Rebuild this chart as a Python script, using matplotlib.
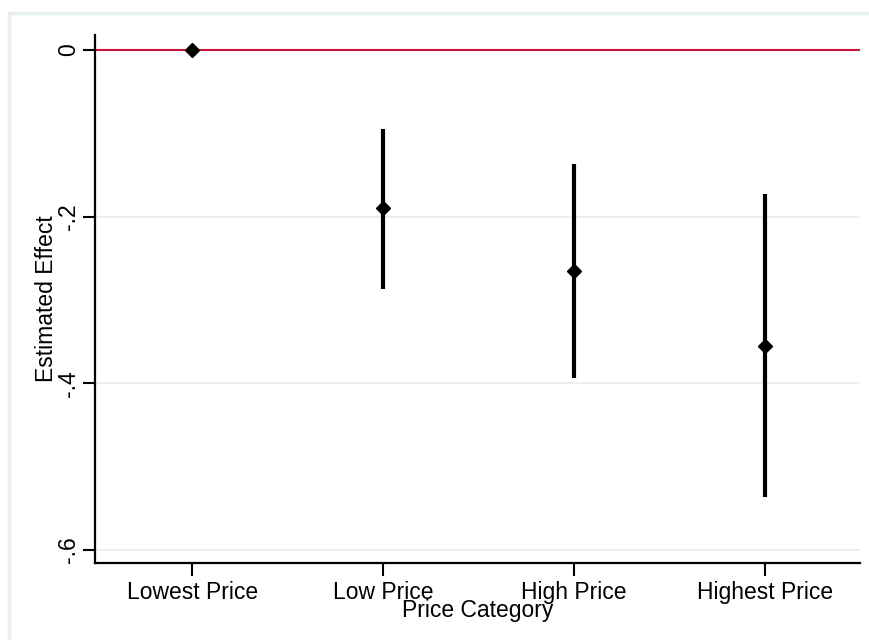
import matplotlib
matplotlib.use("Agg")
import matplotlib.pyplot as plt
from matplotlib.patches import Rectangle

# Estimated effects by price category with confidence intervals
categories = ["Lowest Price", "Low Price", "High Price", "Highest Price"]
estimates = [0.0, -0.190, -0.265, -0.355]
ci_low = [0.0, -0.287, -0.393, -0.536]
ci_high = [0.0, -0.095, -0.137, -0.173]
y_ticks = [0.0, -0.2, -0.4, -0.6]
y_tick_labels = ["0", "-.2", "-.4", "-.6"]

plt.rcParams["font.family"] = ["Liberation Sans", "DejaVu Sans"]
FS = 16.5

fig = plt.figure(figsize=(8.7, 6.4), dpi=100)
fig.patch.set_facecolor("white")

# light outer graph-region frame
frame = Rectangle((9 / 870, -0.05), 1.1, 1.05 - 12.5 / 640,
                  transform=fig.transFigure, fill=False,
                  edgecolor="#E6EFF1", linewidth=2.5, zorder=0)
fig.patches.append(frame)

ax = fig.add_axes([95 / 870, (640 - 563) / 640, (860 - 95) / 870, (563 - 35) / 640])
ax.set_facecolor("white")

x = list(range(1, len(categories) + 1))

# grid lines and zero reference line
for yv in y_ticks[1:]:
    ax.axhline(yv, color="#E6EFF1", linewidth=1.3, zorder=1)
ax.axhline(0, color="#C8163A", linewidth=1.5, zorder=2)

# confidence intervals and point estimates
ax.vlines(x, ci_low, ci_high, color="black", linewidth=3.0, zorder=3)
ax.plot(x, estimates, linestyle="none", marker="D", markersize=7.5,
        color="black", zorder=4)

ax.set_xlim(0.49, 4.5)
ax.set_ylim(-0.6156, 0.018)

ax.set_xticks(x)
ax.set_xticklabels(categories, fontsize=FS)
ax.set_yticks(y_ticks)
ax.set_yticklabels(y_tick_labels, fontsize=FS, rotation=90, va="center")

ax.tick_params(axis="both", direction="out", length=9, width=1.5, color="black")
ax.tick_params(axis="x", pad=4)
ax.tick_params(axis="y", pad=2)

for side in ["top", "right"]:
    ax.spines[side].set_visible(False)
for side in ["left", "bottom"]:
    ax.spines[side].set_linewidth(1.6)
    ax.spines[side].set_color("black")

ax.set_xlabel("Price Category", fontsize=FS, labelpad=-4)
ax.set_ylabel("Estimated Effect", fontsize=FS, labelpad=-1)

fig.savefig("out.png", dpi=100, facecolor="white")
